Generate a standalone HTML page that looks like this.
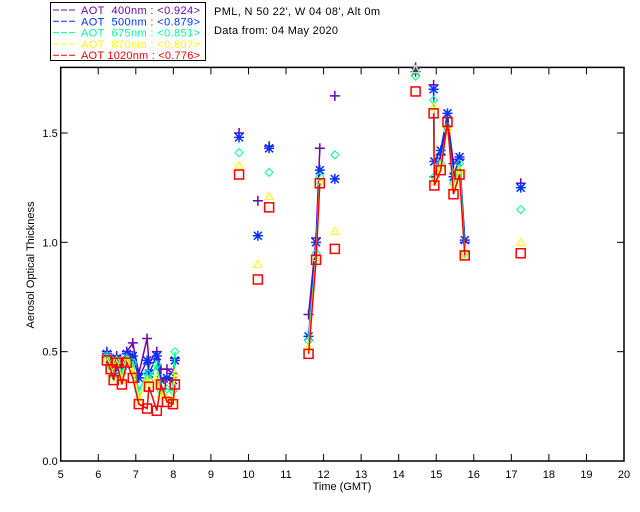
<!DOCTYPE html>
<html><head><meta charset="utf-8"><style>
html,body{margin:0;padding:0;background:#fff;}
svg{display:block;font-family:"Liberation Sans",sans-serif;}
</style></head><body>
<svg id="chart" width="640" height="512" viewBox="0 0 640 512" xmlns="http://www.w3.org/2000/svg">
<rect x="0" y="0" width="640" height="512" fill="#fff"/>
<g id="legend">
<rect x="50.5" y="2.5" width="155" height="58" fill="#fff" stroke="#000"/>
</g>
<text x="214" y="15" font-size="11" fill="#000" textLength="166" lengthAdjust="spacing">PML, N 50 22', W 04 08', Alt 0m</text>
<text x="214" y="34" font-size="11" fill="#000" textLength="124" lengthAdjust="spacing">Data from: 04 May 2020</text>
<g id="axes"></g>
<g id="marks"></g>
<text x="342" y="490" font-size="11" text-anchor="middle">Time (GMT)</text>
<text x="0" y="0" font-size="11" text-anchor="middle" transform="translate(34,265) rotate(-90)">Aerosol Optical Thickness</text>
</svg>
<script>
const times = [6.23,6.33,6.41,6.49,6.63,6.76,6.92,7.08,7.30,7.35,7.56,7.67,7.83,7.99,8.04, 9.75,10.25,10.55, 11.6,11.8,11.9, 12.3, 14.45, 14.93,14.95,15.12,15.30,15.46,15.62,15.76, 17.25];
const segments = [1,1,1,1,1,1,1,1,1,1,1,1,1,1,1, 2,3,4, 5,5,5, 6, 7, 8,8,8,8,8,8,8, 9];
const aot400 = [0.50,0.45,0.42,0.48,0.44,0.50,0.54,0.40,0.56,0.45,0.50,0.42,0.42,0.40,0.47, 1.50,1.19,1.44, 0.67,1.02,1.43, 1.67, 1.80, 1.72,1.30,1.40,1.57,1.36,1.38,1.00, 1.27];
const aot500 = [0.49,0.44,0.40,0.47,0.42,0.49,0.48,0.38,0.46,0.40,0.48,0.37,0.38,0.37,0.46, 1.48,1.03,1.43, 0.57,1.00,1.33, 1.29, 1.78, 1.70,1.37,1.42,1.59,1.30,1.39,1.01, 1.25];
const aot675 = [0.48,0.43,0.39,0.46,0.40,0.47,0.45,0.32,0.40,0.37,0.44,0.32,0.33,0.32,0.50, 1.41,null,1.32, 0.55,0.95,1.30, 1.40, 1.76, 1.65,1.30,1.36,1.53,1.27,1.36,0.95, 1.15];
const aot870 = [0.47,0.43,0.38,0.46,0.37,0.46,0.41,0.28,0.37,0.35,0.38,0.30,0.29,0.28,0.40, 1.35,0.90,1.21, 0.52,0.93,1.28, 1.05, 1.79, 1.62,1.28,1.35,1.52,1.25,1.33,0.94, 1.00];
const aot1020 = [0.46,0.42,0.37,0.45,0.35,0.45,0.38,0.26,0.24,0.34,0.23,0.35,0.27,0.26,0.35, 1.31,0.83,1.16, 0.49,0.92,1.27, 0.97, 1.69, 1.59,1.26,1.33,1.55,1.22,1.31,0.94, 0.95];
const seriesLabels = ["AOT  400nm : <0.924>","AOT  500nm : <0.879>","AOT  675nm : <0.851>","AOT  870nm : <0.807>","AOT 1020nm : <0.776>"];
const xTicks = [5,6,7,8,9,10,11,12,13,14,15,16,17,18,19,20];
const yTicks = [0.0,0.5,1.0,1.5];

const NS="http://www.w3.org/2000/svg";
const X0=60.7, X1=624, Y0=461, YT=67.4;
function sx(t){return X0+(t-5)*(X1-X0)/15;}
function sy(v){return Y0-v*(Y0-YT)/1.8;}
function mk(tag,attrs,parent){const e=document.createElementNS(NS,tag);for(const k in attrs)e.setAttribute(k,attrs[k]);parent.appendChild(e);return e;}
const axes=document.getElementById('axes'), marks=document.getElementById('marks'), legend=document.getElementById('legend');

const frame=mk('rect',{x:X0,y:YT,width:X1-X0,height:Y0-YT,fill:'none',stroke:'#000','stroke-width':1.5},axes);


xTicks.forEach(t=>{
  const x=sx(t);
  const a=mk('line',{x1:x,y1:Y0,x2:x,y2:Y0-7,stroke:'#000'},axes);
  
  
  const b=mk('line',{x1:x,y1:YT,x2:x,y2:YT+7,stroke:'#000'},axes);
  
  
  const l=mk('text',{x:x,y:Y0+17,'font-size':11,'text-anchor':'middle'},axes);
  l.textContent=t;
  
  
});
yTicks.forEach(v=>{
  const y=sy(v);
  const a=mk('line',{x1:X0,y1:y,x2:X0+7,y2:y,stroke:'#000'},axes);
  
  
  const b=mk('line',{x1:X1,y1:y,x2:X1-7,y2:y,stroke:'#000'},axes);
  
  
  const l=mk('text',{x:X0-3,y:y+4,'font-size':11,'text-anchor':'end'},axes);
  l.textContent=v.toFixed(1);
  
  
});

const series=[aot400,aot500,aot675,aot870,aot1020];
const colors=['#7000b0','#0033ff','#00ff99','#ffff00','#ff0000'];
const markers=['plus','star','diamond','triangle','square'];

function marker(type,x,y,c,g){
  let e;
  if(type==='plus'){e=mk('path',{d:`M${x-5} ${y}H${x+5}M${x} ${y-5}V${y+5}`,stroke:c,'stroke-width':1.5,fill:'none'},g);}
  else if(type==='star'){e=mk('path',{d:`M${x-5} ${y}H${x+5}M${x} ${y-5}V${y+5}M${x-4} ${y-4}L${x+4} ${y+4}M${x-4} ${y+4}L${x+4} ${y-4}`,stroke:c,'stroke-width':1.5,fill:'none'},g);}
  else if(type==='diamond'){e=mk('path',{d:`M${x} ${y-4}L${x+4} ${y}L${x} ${y+4}L${x-4} ${y}Z`,stroke:c,fill:'none'},g);}
  else if(type==='triangle'){e=mk('path',{d:`M${x} ${y-4}L${x+4} ${y+3}L${x-4} ${y+3}Z`,stroke:c,fill:'none'},g);}
  else {e=mk('rect',{x:x-4.5,y:y-4.5,width:9,height:9,stroke:c,'stroke-width':1.5,fill:'none'},g);}
  return e;
}

series.forEach((vals,si)=>{
  const g=mk('g',{},marks);
  
  
  let seg=null, pts=[];
  const flush=()=>{ if(pts.length>1){const p=mk('polyline',{points:pts.join(' '),fill:'none',stroke:colors[si],'stroke-width':1.5},g);
    
    } pts=[]; };
  times.forEach((t,i)=>{
    if(segments[i]!==seg){flush();seg=segments[i];}
    if(vals[i]==null){flush();return;}
    pts.push(sx(t).toFixed(1)+','+sy(vals[i]).toFixed(1));
  });
  flush();
  times.forEach((t,i)=>{
    if(vals[i]==null)return;
    const m=marker(markers[si],sx(t),sy(vals[i]),colors[si],g);
    
    
  });
});

seriesLabels.forEach((s,i)=>{
  const y=14+i*11.3;
  const ln=mk('line',{x1:53,y1:y-4,x2:75,y2:y-4,stroke:colors[i],'stroke-dasharray':'6,2'},legend);
  
  
  const tx=mk('text',{x:81,y:y,'font-size':11,fill:colors[i],textLength:119,lengthAdjust:'spacing'},legend);
  tx.setAttribute('style','white-space:pre');
  tx.textContent=s;
  
  
});
</script>
</body></html>
